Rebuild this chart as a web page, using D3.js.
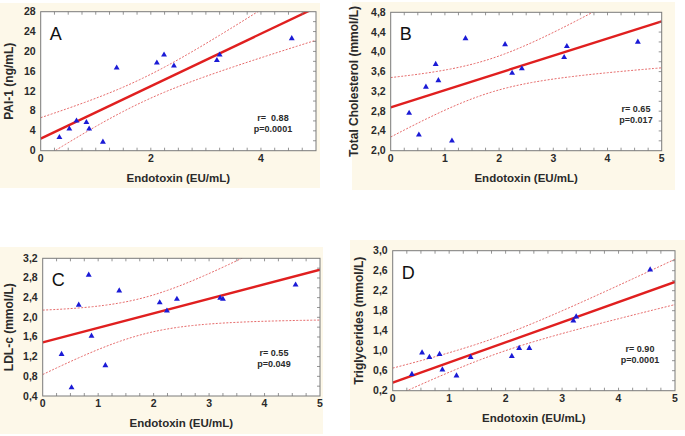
<!DOCTYPE html>
<html>
<head>
<meta charset="utf-8">
<script src="https://cdn.jsdelivr.net/npm/d3@7"></script>
<style>
    body { margin: 0; background: #fff; }
    svg { display: block; font-family: "Liberation Sans", Arial, sans-serif; }
</style>
</head>
<body>
<svg id="chart" width="685" height="436"></svg>
<script>
// endotoxin values, shared by all four panels
const endotoxin = [0.34, 0.52, 0.65, 0.83, 0.88, 1.13, 1.38, 2.11, 2.24, 2.42, 3.2, 3.25, 4.56];

const pai1 = [2.7, 4.4, 6.0, 5.7, 4.4, 1.75, 16.7, 17.7, 19.3, 17.1, 18.2, 19.3, 22.6];
const totalChol = [2.76, 2.32, 3.29, 3.75, 3.42, 2.2, 4.27, 4.15, 3.57, 3.66, 3.89, 4.11, 4.2];
const ldlc = [1.25, 0.57, 2.25, 2.86, 1.62, 1.02, 2.54, 2.3, 2.13, 2.37, 2.39, 2.37, 2.66];
const triglycerides = [0.53, 0.96, 0.87, 0.93, 0.62, 0.5, 0.87, 0.89, 1.05, 1.05, 1.6, 1.68, 2.62];

const letters = ["A", "B", "C", "D"];
const yTitles = ["PAI-1 (ng/mL)", "Total Cholesterol (mmol/L)", "LDL-c (mmol/L)", "Triglycerides (mmol/L)"];
const xTitle = "Endotoxin (EU/mL)";
const rLabels = ["r=  0.88", "r= 0.65", "r= 0.55", "r= 0.90"];
const pLabels = ["p=0.0001", "p=0.017", "p=0.049", "p=0.0001"];

const xTicksA = [0, 2, 4];
const xTicks = [0, 1, 2, 3, 4, 5];
const paiTicks = [0, 4, 8, 12, 16, 20, 24, 28];
const cholTicks = [2.0, 2.4, 2.8, 3.2, 3.6, 4.0, 4.4, 4.8];
const ldlTicks = [0.4, 0.8, 1.2, 1.6, 2.0, 2.4, 2.8, 3.2];
const trigTicks = [0.2, 0.6, 1.0, 1.4, 1.8, 2.2, 2.6, 3.0];

const svg = d3.select("#chart");
const comma = d3.formatLocale({ decimal: ",", thousands: ".", grouping: [3], currency: ["", ""] }).format(".1f");

const panels = [
    { ys: pai1, yTicks: paiTicks, xTicks: xTicksA, fmt: d3.format("d"),
      bg: [0, 3, 320, 185], box: [40.7, 316, 11.7, 150.7], stat: [273, 117], ytOff: 28 },
    { ys: totalChol, yTicks: cholTicks, xTicks: xTicks, fmt: comma,
      bg: [352, 2, 323, 188], box: [390.7, 661.7, 12.3, 150.7], stat: [636, 108], ytOff: 33 },
    { ys: ldlc, yTicks: ldlTicks, xTicks: xTicks, fmt: comma,
      bg: [0, 247, 323, 187], box: [42.7, 320, 258.3, 396], stat: [274, 352], ytOff: 30 },
    { ys: triglycerides, yTicks: trigTicks, xTicks: xTicks, fmt: comma,
      bg: [350, 240, 335, 190], box: [392.7, 675, 250.7, 390.7], stat: [640, 348], ytOff: 30 }
];

// least squares fit with 95% confidence band of the mean
function fit(xs, ys) {
    const n = xs.length;
    const mx = d3.mean(xs), my = d3.mean(ys);
    let sxx = 0, sxy = 0;
    xs.forEach((x, i) => { sxx += (x - mx) ** 2; sxy += (x - mx) * (ys[i] - my); });
    const b = sxy / sxx, a = my - b * mx;
    let sse = 0;
    xs.forEach((x, i) => { sse += (ys[i] - a - b * x) ** 2; });
    const s = Math.sqrt(sse / (n - 2));
    const t = 2.201; // t(0.975, 11)
    const band = (x) => t * s * Math.sqrt(1 / n + (x - mx) ** 2 / sxx);
    return { a, b, band };
}

panels.forEach((p, k) => {
    const [x0, x1, y0, y1] = p.box;
    const g = svg.append("g");

    g.append("rect")
        .attr("x", p.bg[0]).attr("y", p.bg[1])
        .attr("width", p.bg[2]).attr("height", p.bg[3])
        .attr("fill", "#fdf8e9");

    g.append("rect")
        .attr("x", x0).attr("y", y0)
        .attr("width", x1 - x0).attr("height", y1 - y0)
        .attr("fill", "#fff");

    const yDom = d3.extent(p.yTicks);
    const x = d3.scaleLinear().domain([0, 5]).range([x0, x1]);
    const y = d3.scaleLinear().domain(yDom).range([y1, y0]);

    const clipId = "clip" + k;
    g.append("clipPath").attr("id", clipId)
        .append("rect")
        .attr("x", x0).attr("y", y0)
        .attr("width", x1 - x0).attr("height", y1 - y0);

    const f = fit(endotoxin, p.ys);
    const grid = d3.range(0, 5.001, 0.05);
    const line = d3.line().x((d) => x(d[0])).y((d) => y(d[1]));

    const plot = g.append("g").attr("clip-path", `url(#${clipId})`);
    [1, -1].forEach((sgn) => {
        plot.append("path")
            .datum(grid.map((v) => [v, f.a + f.b * v + sgn * f.band(v)]))
            .attr("d", line)
            .attr("fill", "none")
            .attr("stroke", "#e56a6a")
            .attr("stroke-width", 1)
            .attr("stroke-dasharray", "2,1.5");
    });
    plot.append("path")
        .datum([[0, f.a], [5, f.a + f.b * 5]])
        .attr("d", line)
        .attr("fill", "none")
        .attr("stroke", "#e01f1f")
        .attr("stroke-width", 2.4);

    plot.selectAll("path.pt")
        .data(endotoxin.map((v, i) => [v, p.ys[i]]))
        .join("path")
        .attr("class", "pt")
        .attr("d", d3.symbol(d3.symbolTriangle, 15))
        .attr("transform", (d) => `translate(${x(d[0])},${y(d[1])})`)
        .attr("fill", "#1b1bd6");

    // frame with small inward ticks
    g.append("rect")
        .attr("x", x0).attr("y", y0)
        .attr("width", x1 - x0).attr("height", y1 - y0)
        .attr("fill", "none")
        .attr("stroke", "#7a7a7a")
        .attr("stroke-width", 1);

    const xMinor = d3.range(0.25, 5, 0.25);
    const step = p.yTicks[1] - p.yTicks[0];
    const yMinor = d3.range(yDom[0] + step / 2, yDom[1] - 1e-9, step / 2);
    const tk = g.append("g").attr("stroke", "#7a7a7a").attr("stroke-width", 0.8);
    xMinor.forEach((v) => {
        tk.append("line").attr("x1", x(v)).attr("x2", x(v)).attr("y1", y1).attr("y2", y1 - 3);
        tk.append("line").attr("x1", x(v)).attr("x2", x(v)).attr("y1", y0).attr("y2", y0 + 3);
    });
    yMinor.forEach((v) => {
        tk.append("line").attr("x1", x1).attr("x2", x1 - 3).attr("y1", y(v)).attr("y2", y(v));
    });

    g.selectAll("text.yt")
        .data(p.yTicks)
        .join("text")
        .attr("x", x0 - 5)
        .attr("y", (d) => y(d) + 3.5)
        .attr("text-anchor", "end")
        .attr("font-size", 10.5)
        .attr("font-weight", "bold")
        .attr("fill", "#2a2a2a")
        .text(p.fmt);

    g.selectAll("text.xt")
        .data(p.xTicks)
        .join("text")
        .attr("x", (d) => x(d))
        .attr("y", y1 + 11)
        .attr("text-anchor", "middle")
        .attr("font-size", 10.5)
        .attr("font-weight", "bold")
        .attr("fill", "#2a2a2a")
        .text((d) => d);

    g.append("text")
        .attr("x", (x0 + x1) / 2)
        .attr("y", y1 + 31)
        .attr("text-anchor", "middle")
        .attr("font-size", 11.5)
        .attr("font-weight", "bold")
        .attr("fill", "#2a2a2a")
        .text(xTitle);

    g.append("text")
        .attr("transform", `translate(${x0 - p.ytOff},${(y0 + y1) / 2}) rotate(-90)`)
        .attr("text-anchor", "middle")
        .attr("font-size", 12)
        .attr("font-weight", "bold")
        .attr("fill", "#2a2a2a")
        .text(yTitles[k]);

    g.append("text")
        .attr("x", x0 + 9)
        .attr("y", y0 + 28)
        .attr("font-size", 18)
        .attr("fill", "#111")
        .text(letters[k]);

    [rLabels[k], pLabels[k]].forEach((s, i) => {
        g.append("text")
            .attr("x", p.stat[0])
            .attr("y", p.stat[1] + 3.5 + i * 11)
            .attr("text-anchor", "middle")
            .attr("font-size", 9)
            .attr("font-weight", "bold")
            .attr("fill", "#2a2a2a")
            .style("white-space", "pre")
            .text(s);
    });
});
</script>
</body>
</html>
